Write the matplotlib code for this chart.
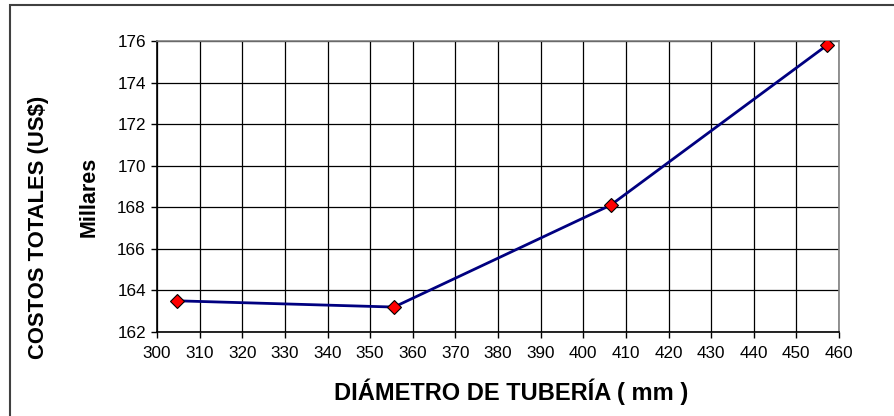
import matplotlib
matplotlib.use('Agg')
import matplotlib.pyplot as plt
from matplotlib.patches import Rectangle

# diametro (mm) vs costos totales (miles de US$)
diametro = [304.8, 355.6, 406.4, 457.2]
costos = [163.5, 163.2, 168.1, 175.8]

x_ticks = list(range(300, 461, 10))
y_ticks = list(range(162, 177, 2))

plt.rcParams['font.family'] = ['Liberation Sans', 'DejaVu Sans']

W, H = 895, 416
fig = plt.figure(figsize=(W / 100, H / 100), dpi=100)
ax = fig.add_axes([157 / W, 1 - 332 / H, (839 - 157) / W, (332 - 41) / H])

# marco exterior (solo visible arriba e izquierda)
fig.patches.append(Rectangle((10 / W, -0.1), 1.2, 1.1 - 5 / H, transform=fig.transFigure,
                             fill=False, edgecolor='#404040', linewidth=1.5))

ax.plot(diametro, costos, color='#000080', linewidth=2, zorder=3,
        marker='D', markersize=7, markerfacecolor='#ff0000',
        markeredgecolor='black', markeredgewidth=0.8)

ax.set_xlim(300, 460)
ax.set_ylim(162, 176)
ax.set_xticks(x_ticks)
ax.set_yticks(y_ticks)
ax.tick_params(axis='both', direction='out', length=4, width=1, color='black',
               labelsize=12.3, pad=4)
ax.tick_params(axis='x', pad=6)
ax.grid(True, color='black', linewidth=0.9)
ax.set_axisbelow(True)
for s in ax.spines.values():
    s.set_color('#808080')
    s.set_linewidth(1.2)
ax.spines['left'].set_color('black')
ax.spines['bottom'].set_color('black')

fig.text(511 / W, 1 - 392 / H, 'DIÁMETRO DE TUBERÍA ( mm )', ha='center', va='center',
         fontsize=17, fontweight='bold')
fig.text(39 / W, 1 - 227 / H, 'COSTOS TOTALES (US$)', ha='center', va='center',
         rotation=90, fontsize=15.8, fontweight='bold')
fig.text(89 / W, 1 - 197 / H, 'Millares', ha='center', va='center',
         rotation=90, fontsize=15.5, fontweight='bold')

fig.savefig('out.png', dpi=100)
